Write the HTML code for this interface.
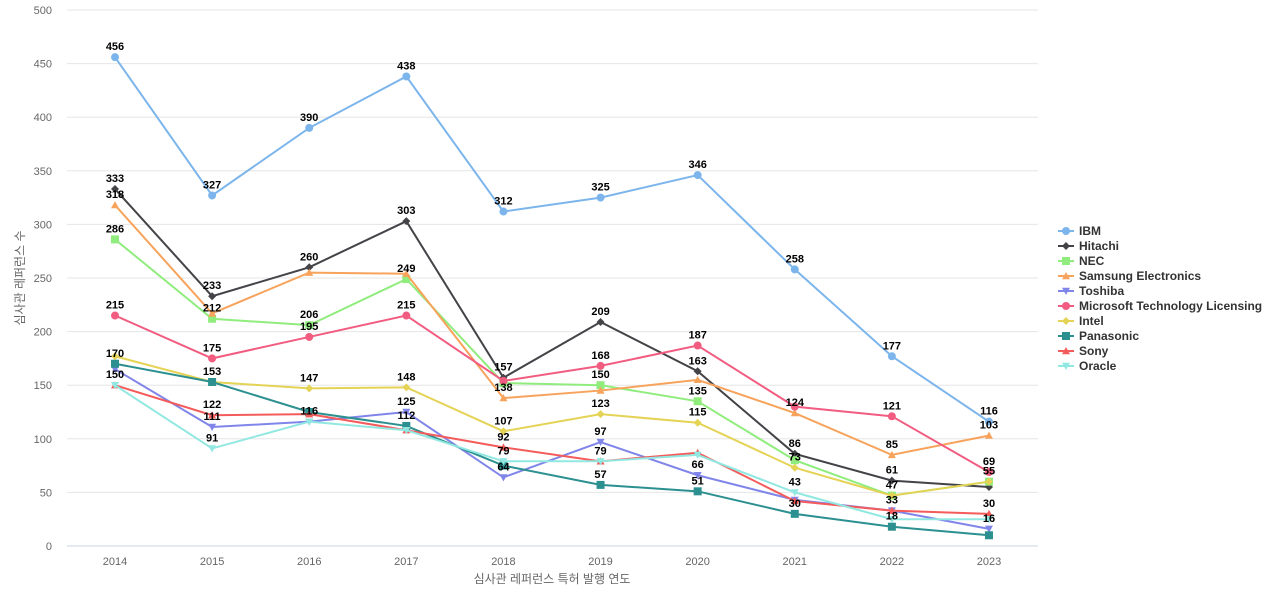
<!DOCTYPE html>
<html><head><meta charset="utf-8">
<style>
html,body{margin:0;padding:0;background:#fff;width:1280px;height:600px;overflow:hidden}
svg text{font-family:"Liberation Sans","Noto Sans CJK KR",sans-serif}
</style></head>
<body>
<svg id="c" width="1280" height="600" xmlns="http://www.w3.org/2000/svg"></svg>
<script>
const svg=document.getElementById('c');
const NS='http://www.w3.org/2000/svg';
function el(t,a,txt){const e=document.createElementNS(NS,t);for(const k in a)e.setAttribute(k,a[k]);if(txt!==undefined)e.textContent=txt;svg.appendChild(e);return e;}
const X=i=>115+i*97.11, Y=v=>546-v*1.072;
for(let v=0;v<=500;v+=50){const y=Y(v);
 el('line',{x1:67,x2:1038,y1:y,y2:y,stroke:v==0?'#c8d4e6':'#e6e6e6','stroke-width':1});
 el('text',{x:52,y:y+4,'text-anchor':'end','font-size':11,fill:'#666'},v);}
for(let i=0;i<10;i++)el('text',{x:X(i),y:565,'text-anchor':'middle','font-size':11,fill:'#666'},2014+i);
el('text',{x:552,y:583,'text-anchor':'middle','font-size':12,fill:'#666'},'심사관 레퍼런스 특허 발행 연도');
el('text',{x:24,y:278,'text-anchor':'middle','font-size':12,fill:'#666',transform:'rotate(-90 24 278)'},'심사관 레퍼런스 수');
const S=[
['IBM','#7cb5ec','circle',[456,327,390,438,312,325,346,258,177,116]],
['Hitachi','#434348','diamond',[333,233,260,303,157,209,163,86,61,55]],
['NEC','#90ed7d','square',[286,212,206,249,152,150,135,80,47,60]],
['Samsung Electronics','#f7a35c','tri',[318,217,255,254,138,145,155,124,85,103]],
['Toshiba','#8085e9','tridown',[165,111,116,125,64,97,66,43,33,16]],
['Microsoft Technology Licensing','#f15c80','circle',[215,175,195,215,154,168,187,130,121,69]],
['Intel','#e4d354','diamond',[177,153,147,148,107,123,115,73,47,60]],
['Panasonic','#2b908f','square',[170,153,125,112,75,57,51,30,18,10]],
['Sony','#f45b5b','tri',[150,122,123,108,92,79,87,42,33,30]],
['Oracle','#91e8e1','tridown',[150,91,116,108,79,79,85,50,25,25]]];
function marker(type,x,y,c,r){
 if(type=='circle')el('circle',{cx:x,cy:y,r:r,fill:c});
 else if(type=='square')el('rect',{x:x-r,y:y-r,width:2*r,height:2*r,fill:c});
 else if(type=='diamond')el('path',{d:`M${x} ${y-r}L${x+r} ${y}L${x} ${y+r}L${x-r} ${y}Z`,fill:c});
 else if(type=='tri')el('path',{d:`M${x} ${y-r}L${x+r} ${y+r*0.8}L${x-r} ${y+r*0.8}Z`,fill:c});
 else el('path',{d:`M${x} ${y+r}L${x+r} ${y-r*0.8}L${x-r} ${y-r*0.8}Z`,fill:c});
}
S.forEach(([n,c,m,d])=>{
 el('polyline',{points:d.map((v,i)=>X(i)+','+Y(v)).join(' '),fill:'none',stroke:c,'stroke-width':2});
 d.forEach((v,i)=>marker(m,X(i),Y(v),c,4));
});
const L={0:[0,1,2,3,4,5,6,7,8,9],1:[0,1,2,3,4,5,6,7,8],2:[0,1,2,3,5,6,8],3:[0,4,7,8,9],
5:[0,1,2,3,5,6,8,9],6:[2,3,4,5,6,7,9],7:[0,1,3,5,6,7,8],4:[1,3,4,5,6,9],8:[0,1,4,8,9],9:[1,2,4,5,7]};
const OV={'6_9':55,'9_7':43};
for(const s in L){const d=S[s][3];L[s].forEach(i=>{
 const t=OV[s+'_'+i]!==undefined?OV[s+'_'+i]:d[i];
 el('text',{x:X(i),y:Y(d[i])-7,'text-anchor':'middle','font-size':11,'font-weight':'bold',fill:'#000'},t);});}
S.forEach(([n,c,m],k)=>{const y=231+k*15;
 el('line',{x1:1058,x2:1074,y1:y,y2:y,stroke:c,'stroke-width':2});
 marker(m,1066,y,c,4);
 el('text',{x:1079,y:y+4,'font-size':12,'font-weight':'bold',fill:'#333'},n);});
</script>
</body></html>
